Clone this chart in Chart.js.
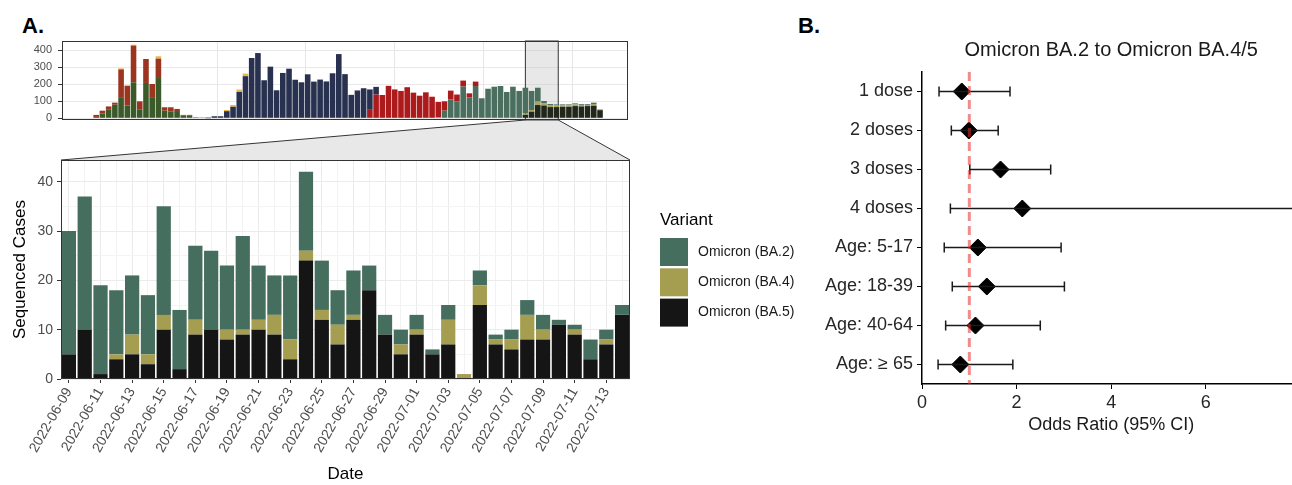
<!DOCTYPE html>
<html>
<head>
<meta charset="utf-8">
<script src="https://cdn.jsdelivr.net/npm/chart.js@4.4.1/dist/chart.umd.min.js"></script>
<style>
  html, body { margin: 0; padding: 0; background: #fff; overflow: hidden; }
  #page { position: relative; width: 1292px; height: 485px; overflow: hidden; font-family: "Liberation Sans", Arial, sans-serif; }
  .panel-tag { position: absolute; font-weight: bold; font-size: 22px; color: #000; line-height: 1; }
  canvas { position: absolute; }
</style>
</head>
<body>
<div id="page">
  <div class="panel-tag" style="left:22px; top:15px;">A.</div>
  <div class="panel-tag" style="left:798px; top:15px;">B.</div>
  <canvas id="overview" width="700" height="133" style="left:0; top:0; width:700px; height:133px; z-index:2;"></canvas>
  <canvas id="daily" width="800" height="375" style="left:0; top:110px; width:800px; height:375px; z-index:1;"></canvas>
  <canvas id="forest" width="500" height="440" style="left:810px; top:30px; width:500px; height:440px;"></canvas>
</div>
<script>
const FONT = "'Liberation Sans', Arial, sans-serif";
Chart.defaults.font.family = FONT;

/* -------------------- OVERVIEW (weekly, from 2021-02-11) -------------------- */
const FIRST_WEEK = "2021-02-11";
const ZOOM_WINDOW = ["2022-06-09", "2022-07-16"];
const TOP_BREAKS = ["2021-06-27", "2021-10-05", "2022-01-13", "2022-04-23", "2022-08-01"];

const WEEK_ALPHA = [8,28,50,80,120,75,212,50,208,120, 237,45,41,37,15,15,4,2,2,0,
  0,0,0,0,0,0,0,0,0,0, 0,0,0,0,0,0,0,0,0,0, 0,0,0,0,0,0,0,0,0,0,
  0,0,0,0,0,0,0,0,0,0, 0,0,0,0,0,0,0,0,0,0, 0,0,0,0,0,0,0,0,0,0, 0,0];
const WEEK_OTHER = [12,17,20,12,168,117,216,50,141,82, 114,20,24,18,5,5,2,0,0,0,
  0,0,0,0,0,0,0,0,0,0, 0,0,0,0,0,0,0,0,0,0, 0,0,0,0,0,0,0,0,0,0,
  0,0,0,0,0,0,0,0,0,0, 0,0,0,0,0,0,0,0,0,0, 0,0,0,0,0,0,0,0,0,0, 0,0];
const WEEK_GAMMA = [0,0,0,0,6,0,5,0,0,0, 14,0,0,0,0,0,2,3,2,0,
  0,7,10,14,15,0,0,0,0,0, 0,0,0,0,0,0,0,0,0,0, 0,0,0,0,0,0,0,0,0,0,
  0,0,0,0,0,0,0,0,0,0, 0,0,0,0,0,0,0,0,0,0, 0,0,0,0,0,0,0,0,0,0, 0,0];
const WEEK_DELTA = [0,0,0,0,0,0,0,0,0,0, 0,0,0,0,0,0,0,0,1,12,
  12,42,68,155,248,355,384,224,304,165, 267,292,227,212,259,216,228,217,265,378,
  260,138,164,177,120,45,0,0,0,0,
  0,0,0,0,0,0,0,0,0,0, 0,0,0,0,0,0,0,0,0,0, 0,0,0,0,0,0,0,0,0,0, 0,0];
const WEEK_BA1 = [0,0,0,0,0,0,0,0,0,0, 0,0,0,0,0,0,0,0,0,0,
  0,0,0,0,0,0,0,0,0,0, 0,0,0,0,0,0,0,0,0,0,
  0,0,0,0,50,140,137,191,170,161, 183,151,133,153,127,90,55,51,40,35,
  23,26,0,0,0,0,0,0,0,0, 0,0,0,0,0,0,0,0,0,0, 0,0];
const WEEK_BA2 = [0,0,0,0,0,0,0,0,0,0, 0,0,0,0,0,0,0,0,0,0,
  0,0,0,0,0,0,0,0,0,0, 0,0,0,0,0,0,0,0,0,0, 0,0,0,0,0,0,0,0,0,0,
  0,0,0,0,0,6,45,112,100,187, 124,190,118,174,186,190,155,186,155,152,
  112,82,13,6,6,6,5,6,5,5, 8,2];
const WEEK_BA4 = [0,0,0,0,0,0,0,0,0,0, 0,0,0,0,0,0,0,0,0,0,
  0,0,0,0,0,0,0,0,0,0, 0,0,0,0,0,0,0,0,0,0, 0,0,0,0,0,0,0,0,0,0,
  0,0,0,0,0,0,0,0,0,0, 0,0,0,0,0,0,0,0,0,8,
  10,20,14,12,10,8,9,10,9,7, 10,3];
const WEEK_BA5 = [0,0,0,0,0,0,0,0,0,0, 0,0,0,0,0,0,0,0,0,0,
  0,0,0,0,0,0,0,0,0,0, 0,0,0,0,0,0,0,0,0,0, 0,0,0,0,0,0,0,0,0,0,
  0,0,0,0,0,0,0,0,0,0, 0,0,0,0,0,0,0,0,6,20,
  39,78,75,66,66,68,68,72,70,72, 74,48];
const WEEK_INDEX = WEEK_ALPHA.map((_, i) => i);

/* -------------------- DAILY (zoomed window) -------------------- */
const DAYS = ["2022-06-09","2022-06-10","2022-06-11","2022-06-12","2022-06-13","2022-06-14",
  "2022-06-15","2022-06-16","2022-06-17","2022-06-18","2022-06-19","2022-06-20","2022-06-21",
  "2022-06-22","2022-06-23","2022-06-24","2022-06-25","2022-06-26","2022-06-27","2022-06-28",
  "2022-06-29","2022-06-30","2022-07-01","2022-07-02","2022-07-03","2022-07-04","2022-07-05",
  "2022-07-06","2022-07-07","2022-07-08","2022-07-09","2022-07-10","2022-07-11","2022-07-12",
  "2022-07-13","2022-07-14"];
const DAY_BA5 = [5,10,1,4,5,3,10,2,9,10,8,9,10,9,4,24,12,7,12,18,9,5,9,5,7,0,15,7,6,8,8,11,9,4,7,13];
const DAY_BA4 = [0,0,0,1,4,2,3,0,3,0,2,1,2,4,4,2,2,4,1,0,0,2,1,0,5,1,4,1,2,5,2,0,1,0,1,0];
const DAY_BA2 = [25,27,18,13,12,12,22,12,15,16,13,19,11,8,13,16,10,7,9,5,4,3,3,1,3,0,3,1,2,3,3,1,1,4,2,2];

/* -------------------- FOREST -------------------- */
const GROUPS = ["1 dose","2 doses","3 doses","4 doses","Age: 5-17","Age: 18-39","Age: 40-64","Age: \u2265 65"];
const ODDS = [0.84, 0.99, 1.66, 2.12, 1.18, 1.37, 1.13, 0.81];
const CI_LOW = [0.36, 0.62, 1.01, 0.60, 0.47, 0.64, 0.50, 0.34];
const CI_HIGH = [1.86, 1.61, 2.72, 9.0, 2.94, 3.01, 2.50, 1.92];
const REF_ODDS = 1;

function weekIndexOf(d) {
    return (Date.parse(d) - Date.parse(FIRST_WEEK)) / (7 * 864e5);
}

/* -------------------- PLUGINS -------------------- */
const panelBorder = {
    id: 'panelBorder',
    afterDatasetsDraw(chart) {
        const { ctx, chartArea: a } = chart;
        ctx.save();
        ctx.strokeStyle = '#333';
        ctx.lineWidth = 1;
        ctx.strokeRect(Math.round(a.left) + 0.5, Math.round(a.top) + 0.5,
            Math.round(a.right - a.left) - 1, Math.round(a.bottom - a.top) - 1);
        ctx.restore();
    }
};

const zoomWindow = {
    id: 'zoomWindow',
    beforeDatasetsDraw(chart) {
        const { ctx, chartArea: a, scales: { x } } = chart;
        const x0 = x.getPixelForValue(weekIndexOf(ZOOM_WINDOW[0]));
        const x1 = x.getPixelForValue(weekIndexOf(ZOOM_WINDOW[1]));
        ctx.save();
        ctx.fillStyle = 'rgba(190,190,190,0.35)';
        ctx.fillRect(x0, a.top, x1 - x0, a.bottom - a.top);
        ctx.strokeStyle = '#333';
        ctx.lineWidth = 1;
        ctx.strokeRect(x0, a.top, x1 - x0, a.bottom - a.top);
        ctx.restore();
    }
};

const overviewChart = new Chart(document.getElementById('overview'), {
    type: 'bar',
    data: {
        labels: WEEK_INDEX,
        datasets: [
            { label: 'Omicron (BA.5)', data: WEEK_BA5, backgroundColor: '#22271b' },
            { label: 'Omicron (BA.4)', data: WEEK_BA4, backgroundColor: '#a7a45e' },
            { label: 'Omicron (BA.2)', data: WEEK_BA2, backgroundColor: '#4a6f5f' },
            { label: 'Omicron (BA.1)', data: WEEK_BA1, backgroundColor: '#ad1a1c' },
            { label: 'Delta', data: WEEK_DELTA, backgroundColor: '#28314f' },
            { label: 'Alpha', data: WEEK_ALPHA, backgroundColor: '#3b5a2a' },
            { label: 'Other', data: WEEK_OTHER, backgroundColor: '#9c3520' },
            { label: 'Gamma', data: WEEK_GAMMA, backgroundColor: '#efb43c' }
        ]
    },
    options: {
        responsive: false,
        animation: false,
        layout: { padding: { top: 41, right: 72, left: 0, bottom: 0 } },
        datasets: { bar: { categoryPercentage: 1, barPercentage: 0.9 } },
        plugins: { legend: { display: false }, tooltip: { enabled: false } },
        scales: {
            x: {
                type: 'linear', min: -5.5, max: 85.5, stacked: true, offset: false,
                afterBuildTicks: s => { s.ticks = TOP_BREAKS.map(d => ({ value: weekIndexOf(d) })); },
                ticks: { display: false },
                grid: { offset: false, color: '#e6e6e6', drawTicks: false },
                border: { display: false },
                afterFit: s => { s.height = 13; }
            },
            y: {
                stacked: true, min: -10, max: 455,
                ticks: {
                    stepSize: 50, includeBounds: false, padding: 6,
                    color: '#4d4d4d', font: { size: 11 },
                    callback: v => (v % 100 === 0 ? v : '')
                },
                grid: {
                    color: c => (c.tick && c.tick.value % 100 === 0 ? '#e8e8e8' : '#f4f4f4'),
                    tickLength: 4,
                    tickColor: c => (c.tick && c.tick.value % 100 === 0 ? '#333' : 'rgba(0,0,0,0)')
                },
                border: { display: false },
                afterFit: s => { s.width = 62; }
            }
        }
    },
    plugins: [zoomWindow, panelBorder]
});

const OVERVIEW_TOP = 0;
const DAILY_TOP = 110;

const zoomConnector = {
    id: 'zoomConnector',
    afterDraw(chart) {
        const { ctx, chartArea: a } = chart;
        const ox = overviewChart.scales.x;
        const y0 = overviewChart.chartArea.bottom + OVERVIEW_TOP - DAILY_TOP;
        const x0 = ox.getPixelForValue(weekIndexOf(ZOOM_WINDOW[0]));
        const x1 = ox.getPixelForValue(weekIndexOf(ZOOM_WINDOW[1]));
        ctx.save();
        ctx.beginPath();
        ctx.moveTo(x0, y0 + 0.5);
        ctx.lineTo(x1, y0 + 0.5);
        ctx.lineTo(a.right, a.top);
        ctx.lineTo(a.left, a.top);
        ctx.closePath();
        ctx.fillStyle = '#e8e8e8';
        ctx.fill();
        ctx.beginPath();
        ctx.moveTo(x0, y0);
        ctx.lineTo(a.left, a.top);
        ctx.moveTo(x1, y0);
        ctx.lineTo(a.right, a.top);
        ctx.strokeStyle = '#333';
        ctx.lineWidth = 1;
        ctx.stroke();
        ctx.restore();
    }
};

const variantLegend = {
    id: 'variantLegend',
    afterDraw(chart, args, opts) {
        const { ctx } = chart;
        ctx.save();
        ctx.textBaseline = 'middle';
        ctx.textAlign = 'left';
        ctx.fillStyle = '#000';
        ctx.font = `17px ${FONT}`;
        ctx.fillText(opts.title, opts.x, opts.titleY);
        chart.data.datasets.slice().reverse().forEach((ds, k) => {
            const top = opts.y + k * opts.step;
            ctx.fillStyle = ds.backgroundColor;
            ctx.fillRect(opts.x, top, opts.box, opts.box);
            ctx.fillStyle = '#1a1a1a';
            ctx.font = `14px ${FONT}`;
            ctx.fillText(ds.label, opts.x + opts.box + 10, top + opts.box / 2);
        });
        ctx.restore();
    }
};

const dailyChart = new Chart(document.getElementById('daily'), {
    type: 'bar',
    data: {
        labels: DAYS,
        datasets: [
            { label: 'Omicron (BA.5)', data: DAY_BA5, backgroundColor: '#151515' },
            { label: 'Omicron (BA.4)', data: DAY_BA4, backgroundColor: '#a59d50' },
            { label: 'Omicron (BA.2)', data: DAY_BA2, backgroundColor: '#466e5e' }
        ]
    },
    options: {
        responsive: false,
        animation: false,
        layout: { padding: { top: 50, right: 170, left: 0, bottom: 0 } },
        datasets: { bar: { categoryPercentage: 0.9, barPercentage: 1 } },
        plugins: {
            legend: { display: false },
            tooltip: { enabled: false },
            variantLegend: { title: 'Variant', x: 660, titleY: 110, y: 128, step: 30.3, box: 28 }
        },
        scales: {
            x: {
                stacked: true,
                grid: {
                    offset: false,
                    color: c => (c.index % 2 ? '#f2f2f2' : '#ebebeb'),
                    tickLength: 4,
                    tickColor: c => (c.index % 2 ? 'rgba(0,0,0,0)' : '#333')
                },
                border: { display: false },
                ticks: {
                    autoSkip: false, minRotation: 60, maxRotation: 60, padding: 2,
                    color: '#4d4d4d', font: { size: 14 },
                    callback: function (v, i) { return i % 2 ? '' : this.getLabelForValue(v); }
                },
                title: { display: true, text: 'Date', color: '#000', font: { size: 17 }, padding: { top: 0, bottom: 0 } },
                afterFit: s => { s.height = 106; }
            },
            y: {
                stacked: true, min: 0, max: 44.4,
                ticks: {
                    stepSize: 5, includeBounds: false, padding: 4,
                    color: '#4d4d4d', font: { size: 14 },
                    callback: v => (v % 10 === 0 ? v : '')
                },
                grid: {
                    color: c => (c.tick && c.tick.value % 10 === 0 ? '#ebebeb' : '#f4f4f4'),
                    tickLength: 4,
                    tickColor: c => (c.tick && c.tick.value % 10 === 0 ? '#333' : 'rgba(0,0,0,0)')
                },
                border: { display: false },
                title: { display: true, text: 'Sequenced Cases', color: '#000', font: { size: 17 }, padding: { top: 10, bottom: 0 } },
                afterFit: s => { s.width = 61; }
            }
        }
    },
    plugins: [zoomConnector, panelBorder, variantLegend]
});

/* -------------------- PANEL B -------------------- */
const refLine = {
    id: 'refLine',
    afterDatasetsDraw(chart, args, opts) {
        const { ctx, chartArea: a, scales: { x } } = chart;
        const px = x.getPixelForValue(opts.value);
        ctx.save();
        ctx.strokeStyle = 'rgba(228,45,45,0.55)';
        ctx.lineWidth = 3;
        ctx.setLineDash([9, 5]);
        ctx.beginPath();
        ctx.moveTo(px, a.top);
        ctx.lineTo(px, a.bottom);
        ctx.stroke();
        ctx.restore();
    }
};

const ciSets = GROUPS.map((g, i) => ({
    type: 'scatter',
    label: g + ' CI',
    data: [{ x: CI_LOW[i], y: g }, { x: CI_HIGH[i], y: g }],
    showLine: true,
    borderColor: '#1a1a1a',
    borderWidth: 1.5,
    pointStyle: 'line',
    pointRotation: 90,
    pointRadius: 5,
    pointBorderWidth: 1.5,
    pointBorderColor: '#1a1a1a'
}));

const forestChart = new Chart(document.getElementById('forest'), {
    type: 'scatter',
    data: {
        datasets: [
            ...ciSets,
            {
                type: 'scatter',
                label: 'Odds ratio',
                data: GROUPS.map((g, i) => ({ x: ODDS[i], y: g })),
                pointStyle: 'rectRot',
                pointRadius: 8.5,
                backgroundColor: '#000',
                borderColor: '#000',
                borderWidth: 1
            }
        ]
    },
    options: {
        responsive: false,
        animation: false,
        layout: { padding: 0 },
        plugins: {
            legend: { display: false },
            tooltip: { enabled: false },
            title: {
                display: true, text: 'Omicron BA.2 to Omicron BA.4/5', fullSize: false,
                color: '#1a1a1a', font: { size: 20, weight: 'normal' }, padding: { top: 8, bottom: 10 }
            },
            refLine: { value: REF_ODDS }
        },
        scales: {
            x: {
                type: 'linear', min: 0, max: 8,
                ticks: { stepSize: 2, includeBounds: false, padding: 3, color: '#262626', font: { size: 18 } },
                grid: { drawOnChartArea: false, tickLength: 5, tickColor: '#000' },
                border: { display: true, color: '#000', width: 1.5 },
                title: { display: true, text: 'Odds Ratio (95% CI)', color: '#1a1a1a', font: { size: 18 }, padding: { top: 0, bottom: 34 } },
                afterFit: s => { s.height = 86; }
            },
            y: {
                type: 'category', labels: GROUPS, offset: true,
                ticks: { padding: 4, color: '#262626', font: { size: 18 } },
                grid: { drawOnChartArea: false, tickLength: 5, tickColor: '#000' },
                border: { display: true, color: '#000', width: 1.5 },
                afterFit: s => { s.width = 112; }
            }
        }
    },
    plugins: [refLine]
});
</script>
</body>
</html>
